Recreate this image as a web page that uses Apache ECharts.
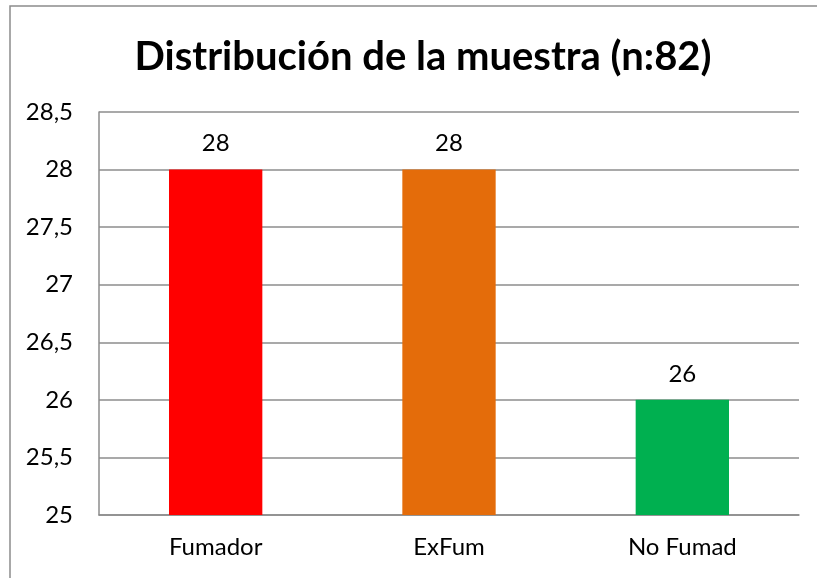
<!DOCTYPE html>
<html>
<head>
<meta charset="utf-8">
<style>
  html, body { margin: 0; padding: 0; background: #fff; overflow: hidden; }
  #chart { width: 817px; height: 578px; }
</style>
<script src="https://cdn.jsdelivr.net/npm/echarts@6/dist/echarts.min.js"></script>
</head>
<body>
<div id="chart"></div>
<script>
const categories = ['Fumador', 'ExFum', 'No Fumad']
const values = [28, 28, 26]
const barColors = ['#FF0000', '#E46C0A', '#00B050']

const font = 'Lato, "Open Sans", sans-serif'

const chart = echarts.init(document.getElementById('chart'))
chart.setOption({
  animation: false,
  backgroundColor: '#fff',
  title: {
    text: 'Distribución de la muestra (n:82)',
    left: 418,
    textAlign: 'center',
    top: 32,
    textStyle: { fontFamily: font, fontSize: 40, fontWeight: 'bold', color: '#000' }
  },
  graphic: [
    {
      type: 'polyline',
      shape: { points: [[10, 578], [10, 6], [817, 6]] },
      style: { fill: null, stroke: '#8c8c8c', lineWidth: 1.5 }
    }
  ],
  grid: { left: 99, right: 18, top: 112, bottom: 63 },
  xAxis: {
    type: 'category',
    data: categories,
    axisLine: { lineStyle: { color: '#8c8c8c', width: 1.5 } },
    axisTick: { show: false },
    axisLabel: { fontFamily: font, fontSize: 24, color: '#000', margin: 20 }
  },
  yAxis: {
    type: 'value',
    min: 25,
    max: 28.5,
    interval: 0.5,
    axisLine: { show: true, lineStyle: { color: '#8c8c8c', width: 1.5 } },
    axisTick: { show: false },
    splitLine: { lineStyle: { color: '#8c8c8c', width: 1.5 } },
    axisLabel: {
      fontFamily: font, fontSize: 24, color: '#000', margin: 26,
      formatter: v => String(v).replace('.', ',')
    }
  },
  series: [
    {
      type: 'bar',
      barWidth: '40%',
      data: values.map((v, i) => ({ value: v, itemStyle: { color: barColors[i] } })),
      label: {
        show: true,
        position: 'top',
        distance: 14,
        fontFamily: font,
        fontSize: 24,
        color: '#000'
      }
    }
  ]
})
</script>
</body>
</html>
